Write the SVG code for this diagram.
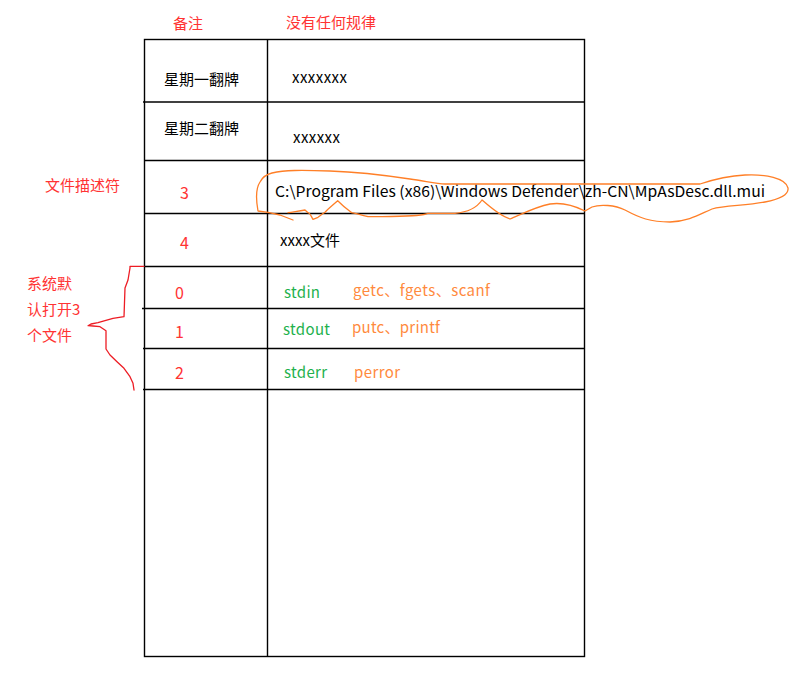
<svg xmlns="http://www.w3.org/2000/svg" width="801" height="673" viewBox="0 0 801 673">
<style>
  text { font-family: "Noto Sans CJK SC", "Noto Sans", "Liberation Sans", sans-serif; font-size: 15px; }
  .blk { fill: #000; }
  .red { fill: #ff3333; }
  .num { font-size: 16px; }
  .grn { fill: #22b14c; }
  .org { fill: #ff8a3d; }
  .grid { stroke: #000; stroke-width: 1.4; fill: none; }
</style>
<rect width="801" height="673" fill="#fff"/>

<g id="table">
  <rect class="grid" x="144.5" y="39.5" width="440" height="617"/>
  <line class="grid" x1="267.5" y1="39.5" x2="267.5" y2="656.5"/>
  <line class="grid" x1="143" y1="102" x2="584.5" y2="102"/>
  <line class="grid" x1="144.5" y1="160.5" x2="584.5" y2="160.5"/>
  <line class="grid" x1="144.5" y1="213.5" x2="584.5" y2="213.5"/>
  <line class="grid" x1="144.5" y1="266.5" x2="584.5" y2="266.5"/>
  <line class="grid" x1="142" y1="308.5" x2="584.5" y2="308.5"/>
  <line class="grid" x1="143" y1="348.5" x2="584.5" y2="348.5"/>
  <line class="grid" x1="143" y1="389.5" x2="584.5" y2="389.5"/>
</g>

<g id="headers">
  <text class="red" x="173" y="29">备注</text>
  <text class="red" x="286" y="27.5">没有任何规律</text>
</g>

<g id="row-mon">
  <text class="blk" x="164" y="85">星期一翻牌</text>
  <text class="blk" x="292" y="82.5" textLength="55">xxxxxxx</text>
</g>
<g id="row-tue">
  <text class="blk" x="164" y="134">星期二翻牌</text>
  <text class="blk" x="293" y="143" textLength="47">xxxxxx</text>
</g>
<g id="row-3">
  <text class="red" x="45" y="191">文件描述符</text>
  <text class="red num" x="180" y="199">3</text>
  <text class="blk" x="275" y="197" textLength="490" lengthAdjust="spacingAndGlyphs">C:\Program Files (x86)\Windows Defender\zh-CN\MpAsDesc.dll.mui</text>
</g>
<g id="row-4">
  <text class="red num" x="180" y="249">4</text>
  <text class="blk" x="280" y="246">xxxx文件</text>
</g>
<g id="row-0">
  <text class="red num" x="175" y="299">0</text>
  <text class="grn" x="284" y="298" textLength="36">stdin</text>
  <text class="org" x="353" y="296" textLength="137">getc、fgets、scanf</text>
</g>
<g id="row-1">
  <text class="red num" x="175" y="338">1</text>
  <text class="grn" x="283" y="334.5" textLength="47">stdout</text>
  <text class="org" x="352" y="333" textLength="88">putc、printf</text>
</g>
<g id="row-2">
  <text class="red num" x="175" y="379">2</text>
  <text class="grn" x="284" y="378" textLength="43">stderr</text>
  <text class="org" x="354" y="378" textLength="46">perror</text>
</g>
<g id="std-label">
  <text class="red" x="27" y="289">系统默</text>
  <text class="red" x="27" y="315">认打开3</text>
  <text class="red" x="27" y="341">个文件</text>
</g>

<g id="connectors" fill="none" stroke-linejoin="round" stroke-linecap="round">
  <path stroke="#ed1c24" stroke-width="1.3" d="M144,266.3 L130,266.3 L130,268 L128,280 L125,288 L124,316.7 L113,318.3 L105,320.7 L98,322.7 L91,324 L88,325.7 L93,326 L100,326.7 L106,330.7 L106,349 L110,355 L117,361.7 L124,368.3 L130,376.7 L133,383.3 L134,390"/>
  <path stroke="#ff7f27" stroke-width="1.3" d="M293,220 L280,215 L268,212.3 L258,211 C256,200 256,188 260,182 C263,176 268,174 272,173 C285,170 300,170 330,171 C360,172 390,176 410,179 C425,181 437,184 445,184 L700,184 C712,180 725,176 745,175 C765,174 786,178 788,188 C789,195 780,199 765,202 C745,206 725,205 712,209 C700,214 690,221 670,222 C650,222 640,218 625,210 C615,205 600,204 592,207 L585,211 C575,206 563,202 550,204 C535,207 522,214 510,219 C500,216 490,207 482,200 C478,206 470,212 455,213.3 L428,213.3 C424,216 410,216 382,216.7 L368,216.7 C360,215 355,213 351.7,212.7 C348,210 345,208 337.7,200.7 C333,205 328,209 325,212.3 C322,214 320,216 318,217.3 L313,219.3 C311,216 310,213 308,212.7 L305,210 C298,211 293,212 288,212.7"/>
</g>
</svg>
